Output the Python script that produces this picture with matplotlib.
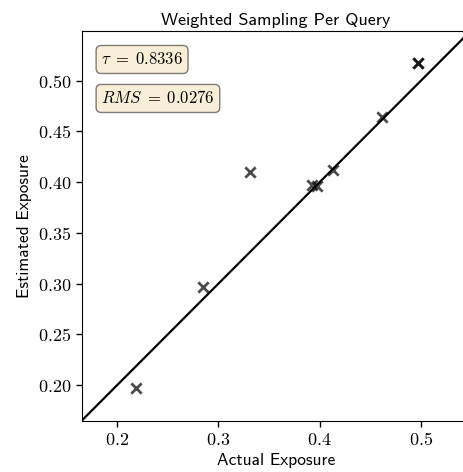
import numpy as np
import matplotlib
matplotlib.use("Agg")
import matplotlib.pyplot as plt
from matplotlib.ticker import FuncFormatter, MultipleLocator

plt.rcParams['mathtext.fontset'] = 'cm'

# actual vs estimated exposure per query
actual = [0.2185, 0.2846, 0.3313, 0.3922, 0.3978, 0.4129, 0.4619, 0.4974, 0.4976]
estimated = [0.1968, 0.2964, 0.4096, 0.3975, 0.3966, 0.4123, 0.4638, 0.5173, 0.5170]
tau = 0.8336
rms = 0.0276
lims = [0.165, 0.549]

fig = plt.figure(figsize=(4.64, 4.72), dpi=100)
ax = fig.add_axes([0.176, 0.1087, 0.838, 0.8256])

ax.plot(lims, lims, color='black', lw=1.6, zorder=1)
ax.scatter(actual, estimated, marker='x', s=55, linewidths=2.0,
           color='black', alpha=0.7, zorder=2)

ax.set_xlim(lims)
ax.set_ylim(lims)
ax.xaxis.set_major_locator(MultipleLocator(0.1))
ax.yaxis.set_major_locator(MultipleLocator(0.05))
ax.xaxis.set_major_formatter(FuncFormatter(lambda v, p: f'${v:.1f}$'))
ax.yaxis.set_major_formatter(FuncFormatter(lambda v, p: f'${v:.2f}$'))
ax.tick_params(labelsize=13, length=4, width=1)

ax.set_xlabel('Actual Exposure', fontfamily='cmss10', fontsize=12.5, labelpad=3)
ax.set_ylabel('Estimated Exposure', fontfamily='cmss10', fontsize=12.5)
ax.set_title('Weighted Sampling Per Query', fontfamily='cmss10', fontsize=13, pad=4)

props = dict(boxstyle='round', facecolor='wheat', alpha=0.5)
ax.text(0.05, 0.95, r'$\tau\;=\;%.4f$' % tau, transform=ax.transAxes,
        fontsize=12, va='top', bbox=props)
ax.text(0.05, 0.85, r'$RMS\;=\;%.4f$' % rms, transform=ax.transAxes,
        fontsize=12, va='top', bbox=props)

fig.savefig('out.png', dpi=100)
